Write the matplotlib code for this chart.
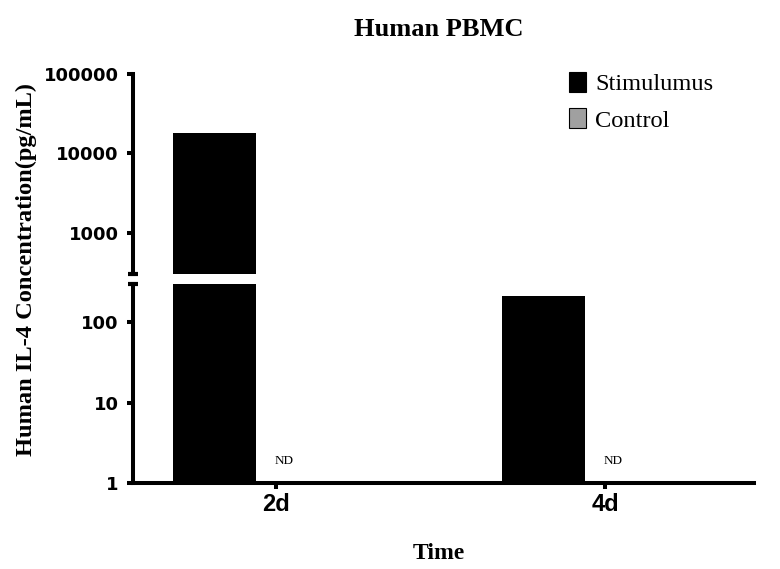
import matplotlib
matplotlib.use("Agg")
import matplotlib.pyplot as plt
import matplotlib.transforms as mtransforms
from matplotlib.patches import Patch
from matplotlib.ticker import NullLocator
import numpy as np

# data
categories = ["2d", "4d"]
stimulus = [18000, 210]
control_labels = ["ND", "ND"]
series_names = ["Stimulumus", "Control"]
upper_ticks = [1000, 10000, 100000]
lower_ticks = [1, 10, 100]
break_value = 300

serif = "Liberation Serif"
lw = 2.9

fig = plt.figure(figsize=(7.8, 5.69), dpi=100)
W, H = 780.0, 569.0
left = 132.7 / W
width = (754 - 132.7) / W
ax_top = fig.add_axes([left, 1 - 274 / H, width, (274 - 74) / H])
ax_bot = fig.add_axes([left, 1 - 483 / H, width, (483 - 284) / H])

x = np.arange(len(categories))
bar_w = 0.252
offset = 0.187

for ax in (ax_top, ax_bot):
    ax.bar(x - offset, stimulus, width=bar_w, bottom=1, color="black", zorder=2)
    ax.set_yscale("log")
    ax.set_xlim(-0.436, 1.453)
    ax.yaxis.set_minor_locator(NullLocator())
    ax.spines["top"].set_visible(False)
    ax.spines["right"].set_visible(False)
    ax.spines["left"].set_linewidth(lw)
    ax.tick_params(axis="y", which="major", direction="out", length=4, width=lw, pad=6)

ax_top.set_ylim(break_value, 100000)
ax_bot.set_ylim(1, break_value)

ax_top.spines["bottom"].set_visible(False)
ax_top.set_xticks([])
ax_bot.spines["bottom"].set_linewidth(lw)

ax_top.set_yticks(upper_ticks)
ax_top.set_yticklabels([str(v) for v in upper_ticks], fontfamily="DejaVu Sans",
                       fontweight="bold", fontsize=13)
ax_bot.set_yticks(lower_ticks)
ax_bot.set_yticklabels([str(v) for v in lower_ticks], fontfamily="DejaVu Sans",
                       fontweight="bold", fontsize=13)

ax_bot.set_xticks(x)
ax_bot.set_xticklabels(categories, fontfamily="Liberation Sans", fontweight="bold", fontsize=17)
ax_bot.tick_params(axis="x", direction="out", length=4, width=lw, pad=3)

# break caps on the y axis
ax_top.plot([0], [0], marker="_", ms=7, mew=3, color="black",
            transform=ax_top.transAxes, clip_on=False)
ax_bot.plot([0], [1], marker="_", ms=7, mew=3, color="black",
            transform=ax_bot.transAxes, clip_on=False)

# ND labels for control
trans = mtransforms.blended_transform_factory(ax_bot.transData, ax_bot.transAxes)
for xi, lab in zip(x, control_labels):
    ax_bot.text(xi + 0.024, 0.11, lab, transform=trans, ha="center", va="center",
                fontfamily=serif, fontsize=9.5)

fig.text(439 / W, 1 - 36 / H, "Human PBMC", ha="center", va="baseline",
         fontfamily=serif, fontweight="bold", fontsize=19)
fig.text(439 / W, 1 - 559 / H, "Time", ha="center", va="baseline",
         fontfamily=serif, fontweight="bold", fontsize=17)
fig.text(26.5 / W, 1 - 270 / H, "Human IL-4 Concentration(pg/mL)", rotation=90,
         ha="center", va="center", fontfamily=serif, fontweight="bold", fontsize=17.6)

handles = [Patch(facecolor="black", edgecolor="black", lw=0.8),
           Patch(facecolor="#a0a0a0", edgecolor="black", lw=0.8)]
fig.legend(handles, series_names, loc="upper left", bbox_to_anchor=(569 / W, 1 - 72 / H),
           frameon=False, prop={"family": serif, "size": 17.6},
           handlelength=0.7, handleheight=0.88, handletextpad=0.38, labelspacing=0.52,
           borderaxespad=0, borderpad=0)

fig.savefig("out.png", dpi=100)
